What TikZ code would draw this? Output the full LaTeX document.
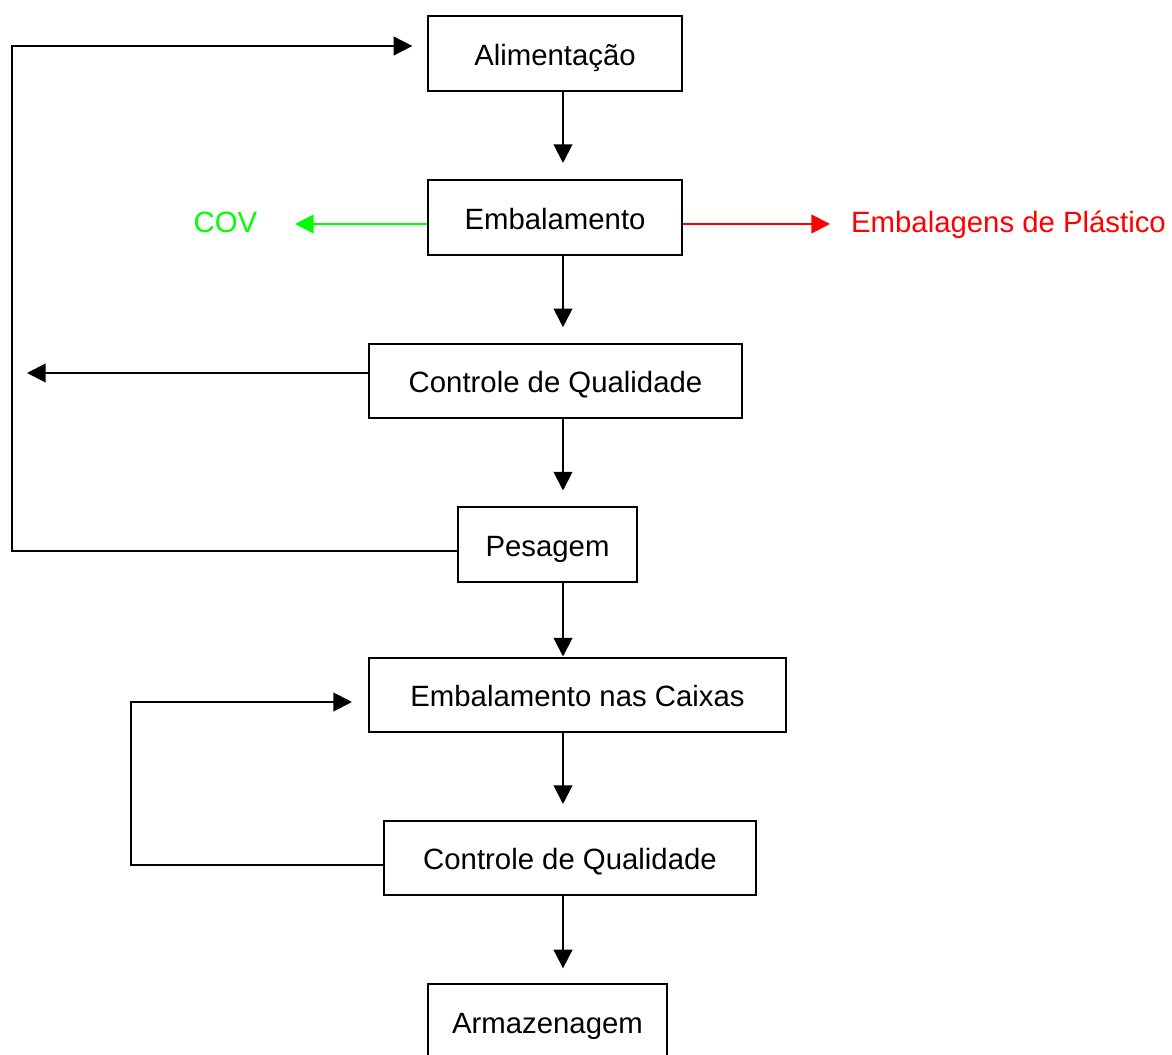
\documentclass[tikz,border=0pt]{standalone}
\usepackage{fontspec}
\setmainfont{Liberation Sans}
\usetikzlibrary{arrows.meta}
\definecolor{covgreen}{RGB}{0,255,0}
\definecolor{plred}{RGB}{255,0,0}
\begin{document}
\begin{tikzpicture}[x=0.75pt,y=-0.75pt,
  font=\fontsize{22}{26}\selectfont,
  blk/.style 2 args={draw, line width=1.5pt, rectangle, inner sep=0pt,
    text height=17.5pt, text depth=0pt,
    minimum width=#1*0.75pt, minimum height=#2*0.75pt},
  arr/.style={line width=1.5pt, -{Triangle[length=14pt,width=14pt]}},
  lbl/.style={inner sep=0pt, anchor=base}
]
\useasboundingbox (0,0) rectangle (1172,1055);

% boxes
\node[blk={254}{75}] (alim) at (555,53.5) {Alimentação};
\node[blk={254}{75}] (emb) at (555,217.5) {Embalamento};
\node[blk={373}{74}] (cq1) at (555.5,381.2) {Controle de Qualidade};
\node[blk={179}{75}] (pes) at (547.5,545) {Pesagem};
\node[blk={417}{74}] (caix) at (577.5,694.5) {Embalamento nas Caixas};
\node[blk={372}{74}] (cq2) at (570,858) {Controle de Qualidade};
\node[blk={239}{76.6}] (arm) at (547.5,1022.3) {Armazenagem};

% side labels
\node[lbl, text=covgreen] (cov) at (225.5,233) {COV};
\node[lbl, text=plred] (plast) at (1008.5,233) {Embalagens de Plástico};

% helper coordinates
\coordinate (vx) at (563,0);
\coordinate (sidey) at (0,224);
\coordinate (covtip) at (295,224);
\coordinate (pltip) at (830,224);
\coordinate (cq1tip) at (27,373);
\coordinate (lpA) at (12,551);
\coordinate (lpB) at (12,46);
\coordinate (lb) at (131,865);
\coordinate (lt) at (131,702);

% main flow
\draw[arr, shorten >=12pt] (alim.south -| vx) -- (emb.north -| vx);
\draw[arr, shorten >=12pt] (emb.south -| vx) -- (cq1.north -| vx);
\draw[arr, shorten >=12pt] (cq1.south -| vx) -- (pes.north -| vx);
\draw[arr] (pes.south -| vx) -- (caix.north -| vx);
\draw[arr, shorten >=12pt] (caix.south -| vx) -- (cq2.north -| vx);
\draw[arr, shorten >=11pt] (cq2.south -| vx) -- (arm.north -| vx);

% side outputs
\draw[arr, draw=covgreen, fill=covgreen] (emb.west |- sidey) -- (covtip);
\draw[arr, draw=plred, fill=plred] (emb.east |- sidey) -- (pltip);

% feedback
\draw[arr] (cq1.west |- cq1tip) -- (cq1tip);
\draw[arr, shorten >=11pt] (pes.west |- lpA) -- (lpA) -- (lpB) -- (alim.west |- lpB);
\draw[arr, shorten >=12pt] (cq2.west |- lb) -- (lb) -- (lt) -- (caix.west |- lt);
\end{tikzpicture}
\end{document}
